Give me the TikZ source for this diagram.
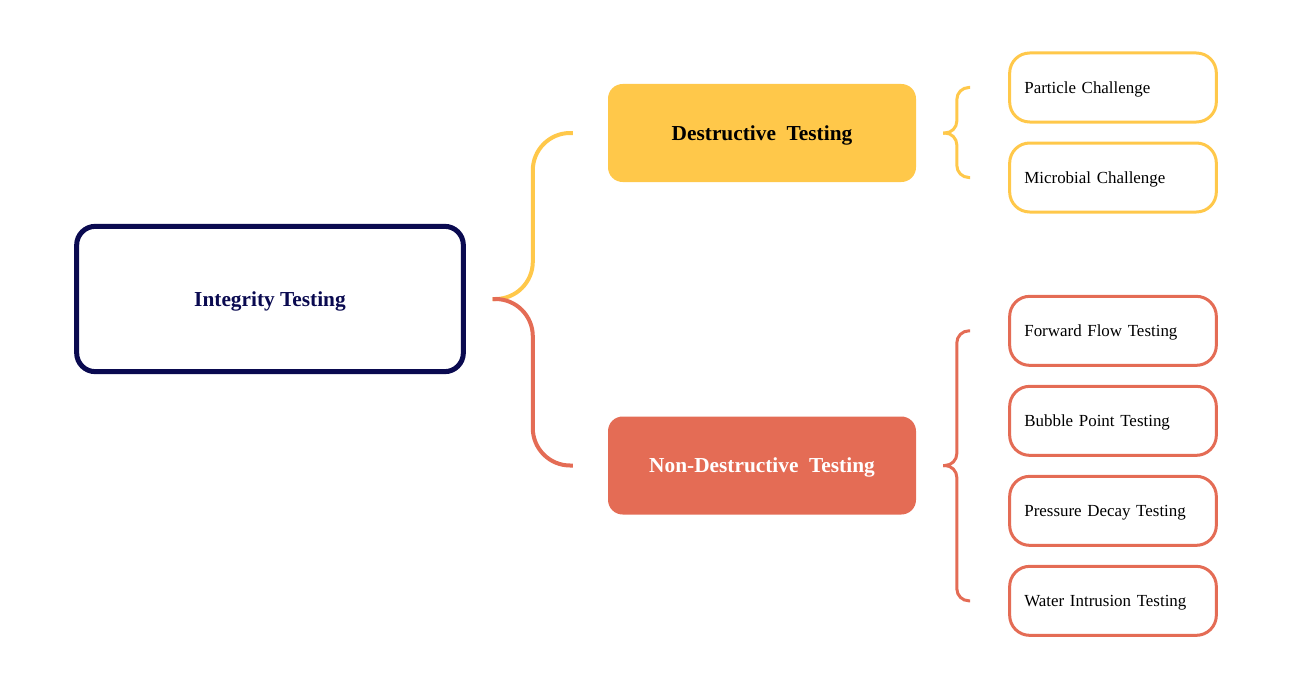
\documentclass[tikz,border=0pt]{standalone}
\usepackage{fontspec}
\setmainfont{Liberation Serif}
\usetikzlibrary{positioning}

\definecolor{navyc}{RGB}{10,10,80}
\definecolor{yellowc}{RGB}{255,200,74}
\definecolor{redc}{RGB}{228,108,85}

\begin{document}
\begin{tikzpicture}[
        x=0.75pt, y=-0.75pt,
        every path/.style={thick},
        mainbox/.style={rounded corners=14pt, draw=navyc, line width=3.75pt, fill=white,
            minimum width=290pt, minimum height=109pt, text=navyc, text depth=0pt,
            font=\fontsize{16}{19}\selectfont\bfseries},
        groupbox/.style={rounded corners=11pt, minimum width=231pt, minimum height=73.5pt,
            text depth=0pt, font=\fontsize{16}{19}\selectfont\bfseries},
        leafbox/.style={rounded corners=15pt, line width=2.25pt, fill=white, align=left,
            text width=133pt, inner xsep=11pt, minimum height=51.75pt, text depth=0pt,
            font=\fontsize{12.7}{15}\selectfont},
        bigbrace/.style={line width=3pt, rounded corners=28pt},
        smallbrace/.style={line width=2.25pt, rounded corners=9pt}
    ]
    \useasboundingbox (0,0) rectangle (1306,685);

    % Nodes
    \node[mainbox] (integ) at (270,299) {Integrity Testing};

    \node[groupbox, fill=yellowc, text=black] (destr) at (762,133) {Destructive~~Testing};
    \node[groupbox, fill=redc, text=white] (nondestr) at (762,465.5) {Non-Destructive~~Testing};

    \node[leafbox, draw=yellowc] (particle) at (1113,87.5) {Particle Challenge};
    \node[leafbox, draw=yellowc, below=13.5pt of particle] (microbial) {Microbial Challenge};

    \node[leafbox, draw=redc, below=61pt of microbial] (forward) {Forward Flow Testing};
    \node[leafbox, draw=redc, below=13.5pt of forward] (bubble) {Bubble Point Testing};
    \node[leafbox, draw=redc, below=13.5pt of bubble] (pressure) {Pressure Decay Testing};
    \node[leafbox, draw=redc, below=13.5pt of pressure] (water) {Water Intrusion Testing};

    % Brace ends
    \coordinate[right=20pt of integ.east] (integtip);
    \coordinate[left=26pt of destr.west] (destrend);
    \coordinate[left=26pt of nondestr.west] (nondestrend);
    \coordinate[right=20pt of destr.east] (destrtip);
    \coordinate[right=20pt of nondestr.east] (nondestrtip);
    \coordinate[left=28.5pt of particle.west] (particleend);
    \coordinate[left=28.5pt of microbial.west] (microbialend);
    \coordinate[left=28.5pt of forward.west] (forwardend);
    \coordinate[left=28.5pt of water.west] (waterend);

    % Edges
    \draw[bigbrace, yellowc] (destrend) -- ++(-30pt,0) |- (integtip);
    \draw[bigbrace, redc] (nondestrend) -- ++(-30pt,0) |- (integtip);

    \draw[smallbrace, yellowc] (particleend) -- ++(-10pt,0) |- (destrtip);
    \draw[smallbrace, yellowc] (microbialend) -- ++(-10pt,0) |- (destrtip);

    \draw[smallbrace, redc] (forwardend) -- ++(-10pt,0) |- (nondestrtip);
    \draw[smallbrace, redc] (waterend) -- ++(-10pt,0) |- (nondestrtip);

\end{tikzpicture}
\end{document}
